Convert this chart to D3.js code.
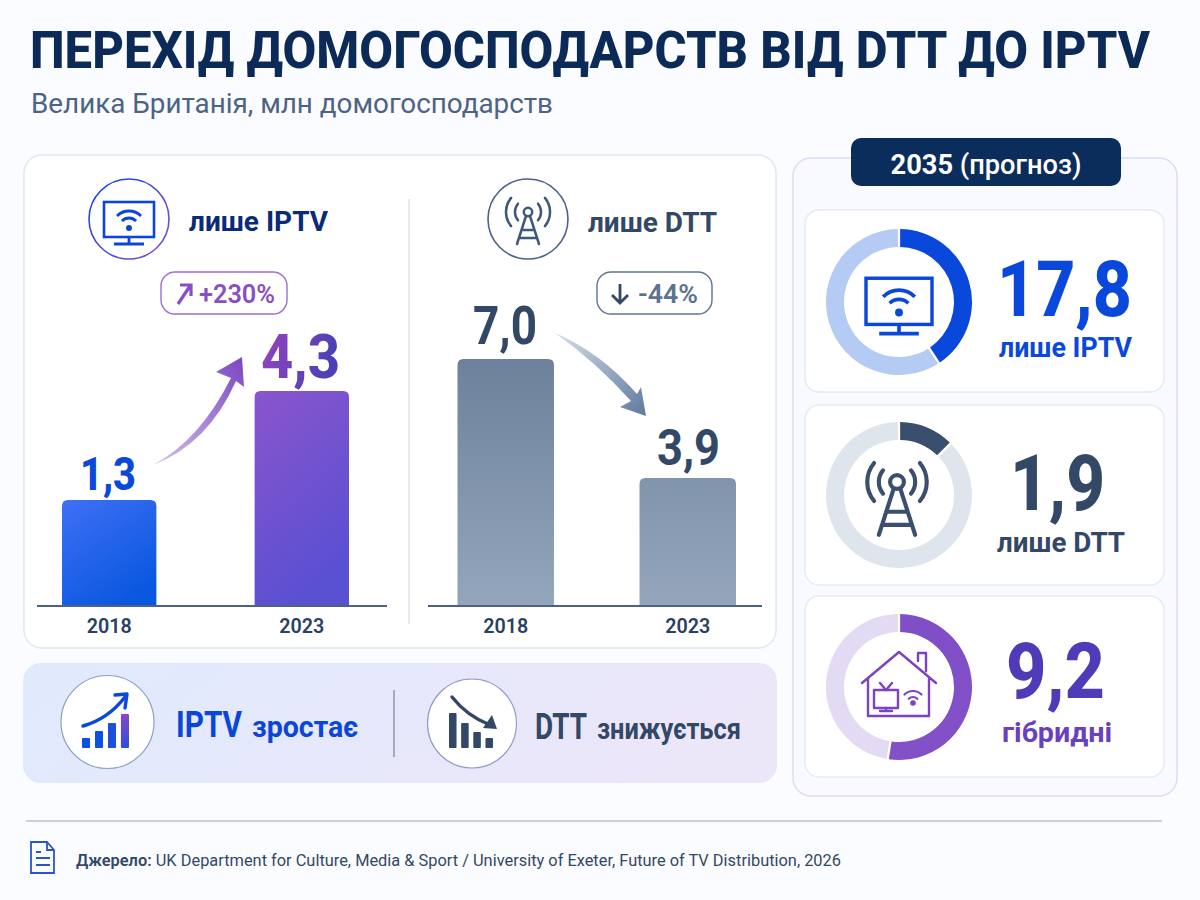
<!DOCTYPE html>
<html lang="uk">
<head>
<meta charset="utf-8">
<title>Перехід домогосподарств від DTT до IPTV</title>
<script src="https://cdn.jsdelivr.net/npm/d3@7"></script>
<style>
    html, body { margin: 0; padding: 0; background: #fbfcff; }
    svg { display: block; font-family: Roboto, "Noto Sans", sans-serif; }
</style>
</head>
<body>
<svg id="chart" width="1200" height="900"></svg>
<script>
// values
const years = ["2018", "2023"];
const iptvValues = [1.3, 4.3];
const dttValues = [7.0, 3.9];
const forecastValues = [17.8, 1.9, 9.2];
const forecastLabels = ["лише IPTV", "лише DTT", "гібридні"];
// the rings in the picture are not share of total, so the drawn share is read separately
const ringShares = [0.407, 0.122, 0.525];
const risingBars = [10, 17, 25, 34];
const fallingBars = [35, 25, 16, 10];

const navy = "#0b2a57", slate = "#334866", blue = "#0a48dc", purple = "#7b4cc6", violet = "#4f3bb8";

const fmt = function (v) { return d3.format(".1f")(v).replace(".", ","); };

const svg = d3.select("#chart");
const defs = svg.append("defs");

function gradient(id, x1, y1, x2, y2, from, to) {
    const g = defs.append("linearGradient").attr("id", id)
        .attr("x1", x1).attr("y1", y1).attr("x2", x2).attr("y2", y2);
    g.append("stop").attr("offset", "0%").attr("stop-color", from);
    g.append("stop").attr("offset", "100%").attr("stop-color", to);
}
gradient("barBlue", 0, 0, 0.6, 1, "#3f70f5", "#0a58df");
gradient("barPurple", 0, 0, 0.4, 1, "#8a55cc", "#5a50d2");
gradient("barSlate1", 0, 0, 0, 1, "#6d819c", "#94a6bc");
gradient("barSlate2", 0, 0, 0, 1, "#8094ac", "#95a6bc");
gradient("txtPurple", 0, 0, 1, 0.3, "#9a45c0", "#4a40b4");
gradient("banner", 0, 0, 1, 0.2, "#e0eafd", "#ece6f9");
gradient("ringPurple", 0, 0, 0, 1, "#7f4fc8", "#8450c8");
gradient("ringIcon", 0, 0, 1, 1, "#0b46dc", "#8a4fc8");
gradient("arrowUp", 0, 1, 1, 0, "#d3c3ec", "#7b45c2");
gradient("arrowDown", 0, 0, 1, 1, "#d5deea", "#5f7a9e");
gradient("lastBar", 0, 0, 0, 1, "#8a45c4", "#2a50dc");

function label(parent, x, y, str, size, weight, color, anchor, len) {
    const t = parent.append("text")
        .attr("x", x).attr("y", y)
        .attr("font-size", size).attr("font-weight", weight)
        .attr("fill", color).attr("text-anchor", anchor || "start")
        .text(str);
    if (len) t.attr("textLength", len).attr("lengthAdjust", "spacingAndGlyphs");
    return t;
}

function card(x, y, w, h, r, fill, stroke) {
    return svg.append("rect").attr("x", x).attr("y", y).attr("width", w).attr("height", h)
        .attr("rx", r).attr("ry", r).attr("fill", fill).attr("stroke", stroke).attr("stroke-width", 1.5);
}

// ---- icons, all drawn round their own origin
function wifi(g, cy, radii, color, width, dot) {
    const arc = d3.arc().startAngle(-Math.PI / 4).endAngle(Math.PI / 4);
    radii.forEach(function (r) {
        g.append("path")
            .attr("d", arc({innerRadius: r, outerRadius: r}))
            .attr("transform", "translate(0," + cy + ")")
            .attr("fill", "none").attr("stroke", color)
            .attr("stroke-width", width).attr("stroke-linecap", "round");
    });
    g.append("circle").attr("cy", cy).attr("r", dot).attr("fill", color);
}

function tvIcon(x, y, k, color) {
    const g = svg.append("g").attr("transform", "translate(" + x + "," + y + ") scale(" + k + ")");
    g.append("rect").attr("x", -25).attr("y", -18).attr("width", 50).attr("height", 35)
        .attr("fill", "none").attr("stroke", color).attr("stroke-width", 2.6);
    g.append("path").attr("d", "M0,17V23M-15,24H15").attr("stroke", color).attr("stroke-width", 2.8).attr("fill", "none");
    wifi(g, 8, [10, 17], color, 2.8, 3);
}

function towerIcon(x, y, k, color, radii) {
    const g = svg.append("g").attr("transform", "translate(" + x + "," + y + ") scale(" + k + ")")
        .attr("fill", "none").attr("stroke", color).attr("stroke-width", 2.5).attr("stroke-linecap", "round");
    g.append("circle").attr("r", 4.2);
    g.append("path").attr("d", "M-2,4L-11,32M2,4L11,32M-6,18H6M-9,26H9");
    radii.forEach(function (r) {
        const dx = r * 0.77, dy = r * 0.64;
        g.append("path").attr("d", "M" + (-dx) + "," + (-dy) + "A" + r + "," + r + " 0 0 0 " + (-dx) + "," + dy);
        g.append("path").attr("d", "M" + dx + "," + (-dy) + "A" + r + "," + r + " 0 0 1 " + dx + "," + dy);
    });
}

function houseIcon(x, y, color) {
    const g = svg.append("g").attr("transform", "translate(" + x + "," + y + ")")
        .attr("fill", "none").attr("stroke", color).attr("stroke-width", 2.4)
        .attr("stroke-linecap", "round").attr("stroke-linejoin", "round");
    g.append("path").attr("d", "M-37,0L0,-31L37,0M-31,-4V33H30V-4M19,-22V-30H27V-12");
    g.append("rect").attr("x", -25).attr("y", 7).attr("width", 24).attr("height", 18);
    g.append("path").attr("d", "M-13,7L-19,0M-13,7L-7,0M-13,25V28M-19,28H-7");
    const w = g.append("g").attr("transform", "translate(14,0)");
    wifi(w, 20, [6, 12], color, 2.2, 1.6);
}

function trendIcon(cx, cy, r, values, bandRange, colors) {
    svg.append("circle").attr("cx", cx).attr("cy", cy).attr("r", r)
        .attr("fill", "#fff").attr("stroke", "#8f9ec4").attr("stroke-width", 1.2);
    const x = d3.scaleBand().domain(d3.range(values.length)).range(bandRange).paddingInner(0.38);
    const y = d3.scaleLinear().domain([0, 35]).range([748, 713]);
    svg.append("g").selectAll("rect").data(values).enter().append("rect")
        .attr("x", function (d, i) { return x(i); })
        .attr("y", function (d) { return y(d); })
        .attr("width", x.bandwidth())
        .attr("height", function (d) { return y(0) - y(d); })
        .attr("rx", 1)
        .attr("fill", function (d, i) { return colors[i]; });
}

// ---- title
label(svg, 30, 68, "ПЕРЕХІД ДОМОГОСПОДАРСТВ ВІД DTT ДО IPTV", 51, 800, navy, "start", 1120);
label(svg, 31, 113, "Велика Британія, млн домогосподарств", 27, 400, "#4d6385", "start", 522);

// ---- left card
card(24, 155, 752, 493, 18, "#fff", "#e2e7f1");
svg.append("line").attr("x1", 409).attr("x2", 409).attr("y1", 199).attr("y2", 624)
    .attr("stroke", "#dfe3ec").attr("stroke-width", 1.5);

function barPanel(values, range, padding, yDomain, yTop, axisX, fills) {
    const x = d3.scaleBand().domain(years).range(range).paddingInner(padding);
    // the picture does not start its bars at zero, domain fitted to the drawn heights
    const y = d3.scaleLinear().domain(yDomain).range([606, yTop]);

    svg.append("g").selectAll("path").data(values).enter().append("path")
        .attr("d", function (d, i) {
            const x0 = x(years[i]), x1 = x0 + x.bandwidth(), top = y(d), r = 6;
            return "M" + x0 + ",606V" + (top + r) + "Q" + x0 + "," + top + " " + (x0 + r) + "," + top
                + "H" + (x1 - r) + "Q" + x1 + "," + top + " " + x1 + "," + (top + r) + "V606Z";
        })
        .attr("fill", function (d, i) { return fills[i]; });

    svg.append("line").attr("x1", axisX[0]).attr("x2", axisX[1]).attr("y1", 606).attr("y2", 606)
        .attr("stroke", "#4d6285").attr("stroke-width", 2);

    const axis = svg.append("g").attr("transform", "translate(0,606)")
        .call(d3.axisBottom(x).tickSize(0).tickPadding(12));
    axis.select(".domain").remove();
    axis.selectAll("text").attr("font-size", 21).attr("font-weight", 600)
        .attr("font-family", "Roboto").attr("fill", "#2b3f63")
        .attr("textLength", 45).attr("lengthAdjust", "spacingAndGlyphs");
}

barPanel(iptvValues, [62, 349], 0.51, [-1.62, 4.3], 391, [37, 387], ["url(#barBlue)", "url(#barPurple)"]);
barPanel(dttValues, [457.5, 736], 0.47, [0.57, 7.0], 359, [428, 762], ["url(#barSlate1)", "url(#barSlate2)"]);

// value labels
label(svg, 108, 490, fmt(iptvValues[0]), 46, 800, blue, "middle", 56);
label(svg, 300.5, 378, fmt(iptvValues[1]), 62, 800, "url(#txtPurple)", "middle", 79);
label(svg, 505, 344, fmt(dttValues[0]), 53, 700, slate, "middle", 64);
label(svg, 688.5, 465, fmt(dttValues[1]), 50, 700, slate, "middle", 63);

// panel headers
svg.append("circle").attr("cx", 129).attr("cy", 219).attr("r", 40).attr("fill", "#fff")
    .attr("stroke", "url(#ringIcon)").attr("stroke-width", 1.6);
tvIcon(129, 220, 1, "#0b46d8");
label(svg, 189, 231, "лише IPTV", 27, 700, "#0b2a78", "start", 139);

svg.append("circle").attr("cx", 528).attr("cy", 219).attr("r", 40).attr("fill", "#fff")
    .attr("stroke", "#4d6285").attr("stroke-width", 1.6);
towerIcon(528, 212, 1, "#3f5778", [13, 22]);
label(svg, 588, 232, "лише DTT", 27, 700, "#334866", "start", 129);

// change badges
svg.append("rect").attr("x", 161).attr("y", 272).attr("width", 126).attr("height", 42).attr("rx", 14)
    .attr("fill", "#fff").attr("stroke", "#9a6fd0").attr("stroke-width", 1.4);
svg.append("path").attr("d", "M178,304L190,286M180,285H191V296").attr("fill", "none")
    .attr("stroke", "#8a4fc4").attr("stroke-width", 3.2);
label(svg, 199, 303, "+230%", 26, 600, "#8a4fc4", "start", 76);

svg.append("rect").attr("x", 597).attr("y", 272).attr("width", 115).attr("height", 42).attr("rx", 14)
    .attr("fill", "#fff").attr("stroke", "#5f7590").attr("stroke-width", 1.4);
svg.append("path").attr("d", "M620,284V303M612,295L620,303L628,295").attr("fill", "none")
    .attr("stroke", "#334866").attr("stroke-width", 2.8);
label(svg, 638, 303, "-44%", 26, 600, "#5d7290", "start", 60);

// curved arrows between the bars
svg.append("path")
    .attr("d", "M153,465Q200,440 231,378L216,372L242,357L244,387L236,381Q208,444 153,465Z")
    .attr("fill", "url(#arrowUp)");
svg.append("path")
    .attr("d", "M555,333Q600,352 637,394L641,387L646,416L620,407L631,401Q596,362 555,333Z")
    .attr("fill", "url(#arrowDown)");

// ---- banner
svg.append("rect").attr("x", 23).attr("y", 663).attr("width", 754).attr("height", 120).attr("rx", 18)
    .attr("fill", "url(#banner)");
svg.append("line").attr("x1", 394).attr("x2", 394).attr("y1", 690).attr("y2", 757)
    .attr("stroke", "#7d7fa6").attr("stroke-width", 1.2);

trendIcon(107.5, 722, 46.5, risingBars, [82, 129], ["#0b50e0", "#0b50e0", "#1c50dc", "url(#lastBar)"]);
svg.append("path").attr("d", "M83,726Q108,719 125,697").attr("fill", "none").attr("stroke", blue)
    .attr("stroke-width", 3.4).attr("stroke-linecap", "round");
svg.append("path").attr("d", "M115,695L127,694L125,708").attr("fill", "none").attr("stroke", blue)
    .attr("stroke-width", 3.4).attr("stroke-linecap", "round").attr("stroke-linejoin", "round");

trendIcon(472, 723.5, 44.5, fallingBars, [449, 493], [slate, slate, slate, slate]);
svg.append("path").attr("d", "M452,697Q467,716 490,725").attr("fill", "none").attr("stroke", slate)
    .attr("stroke-width", 3.4).attr("stroke-linecap", "round");
svg.append("path").attr("d", "M497,729L483,728L492,715Z").attr("fill", slate);

label(svg, 176, 737, "IPTV", 36, 700, "#0b46d8", "start", 66);
label(svg, 252, 737, "зростає", 30, 700, "#0b46d8", "start", 106);
label(svg, 535, 739, "DTT", 36, 700, slate, "start", 52);
label(svg, 597, 739, "знижується", 30, 700, slate, "start", 144);

// ---- right card
card(793, 158, 384, 638, 18, "#f8faff", "#d6e0f6");
svg.append("rect").attr("x", 851).attr("y", 138).attr("width", 270).attr("height", 48).attr("rx", 10)
    .attr("fill", "#0b2d5c");
const head = label(svg, 986, 174, "2035 ", 27, 700, "#fff", "middle", 191);
head.append("tspan").attr("font-weight", 500).text("(прогноз)");

const ringCenters = [302, 495, 687];
const cardTops = [[210, 182], [405, 180], [596, 181]];
const ringColors = [[blue, "#b4cbf3"], ["#3a4f6d", "#dfe5ec"], ["url(#ringPurple)", "#e3daf3"]];
const valueColors = [blue, slate, "#4f3bb8"];
const labelColors = [blue, slate, "#6a3fc0"];
const valueX = [[1064.5, 135], [1057.5, 95], [1055.5, 99]];
const valueY = [316, 510, 698];
const labelX = [[1065.5, 133], [1061, 128], [1057, 110]];
const labelY = [357, 552, 742];

const pie = d3.pie().sort(null).padAngle(0.025);
const arc = d3.arc().innerRadius(55).outerRadius(73);

forecastValues.forEach(function (v, i) {
    card(805, cardTops[i][0], 359, cardTops[i][1], 14, "#fff", "#e6ebf5");
    svg.append("g").attr("transform", "translate(899," + ringCenters[i] + ")")
        .selectAll("path").data(pie([ringShares[i], 1 - ringShares[i]])).enter().append("path")
        .attr("d", arc)
        .attr("fill", function (d, j) { return ringColors[i][j]; });
    label(svg, valueX[i][0], valueY[i], fmt(v), 78, 800, valueColors[i], "middle", valueX[i][1]);
    label(svg, labelX[i][0], labelY[i], forecastLabels[i], 27, 700, labelColors[i], "middle", labelX[i][1]);
});

tvIcon(899, 302, 1.32, blue);
towerIcon(897, 482, 1.65, "#3a4f6d", [11, 18]);
houseIcon(899, 683, "#7b42c4");

// ---- footer
svg.append("line").attr("x1", 26).attr("x2", 1162).attr("y1", 821).attr("y2", 821)
    .attr("stroke", "#b5c4da").attr("stroke-width", 1.6);
svg.append("path").attr("d", "M31,842H47L54,850V873H31ZM47,842V850H54M36,852H41M36,858H50M36,865H50")
    .attr("fill", "none").attr("stroke", "#2a55c8").attr("stroke-width", 1.8);
const src = label(svg, 76, 866, "Джерело: ", 16.5, 600, slate, "start", 765);
src.append("tspan").attr("font-weight", 400).text("UK Department for Culture, Media & Sport / University of Exeter, Future of TV Distribution, 2026");
</script>
</body>
</html>
